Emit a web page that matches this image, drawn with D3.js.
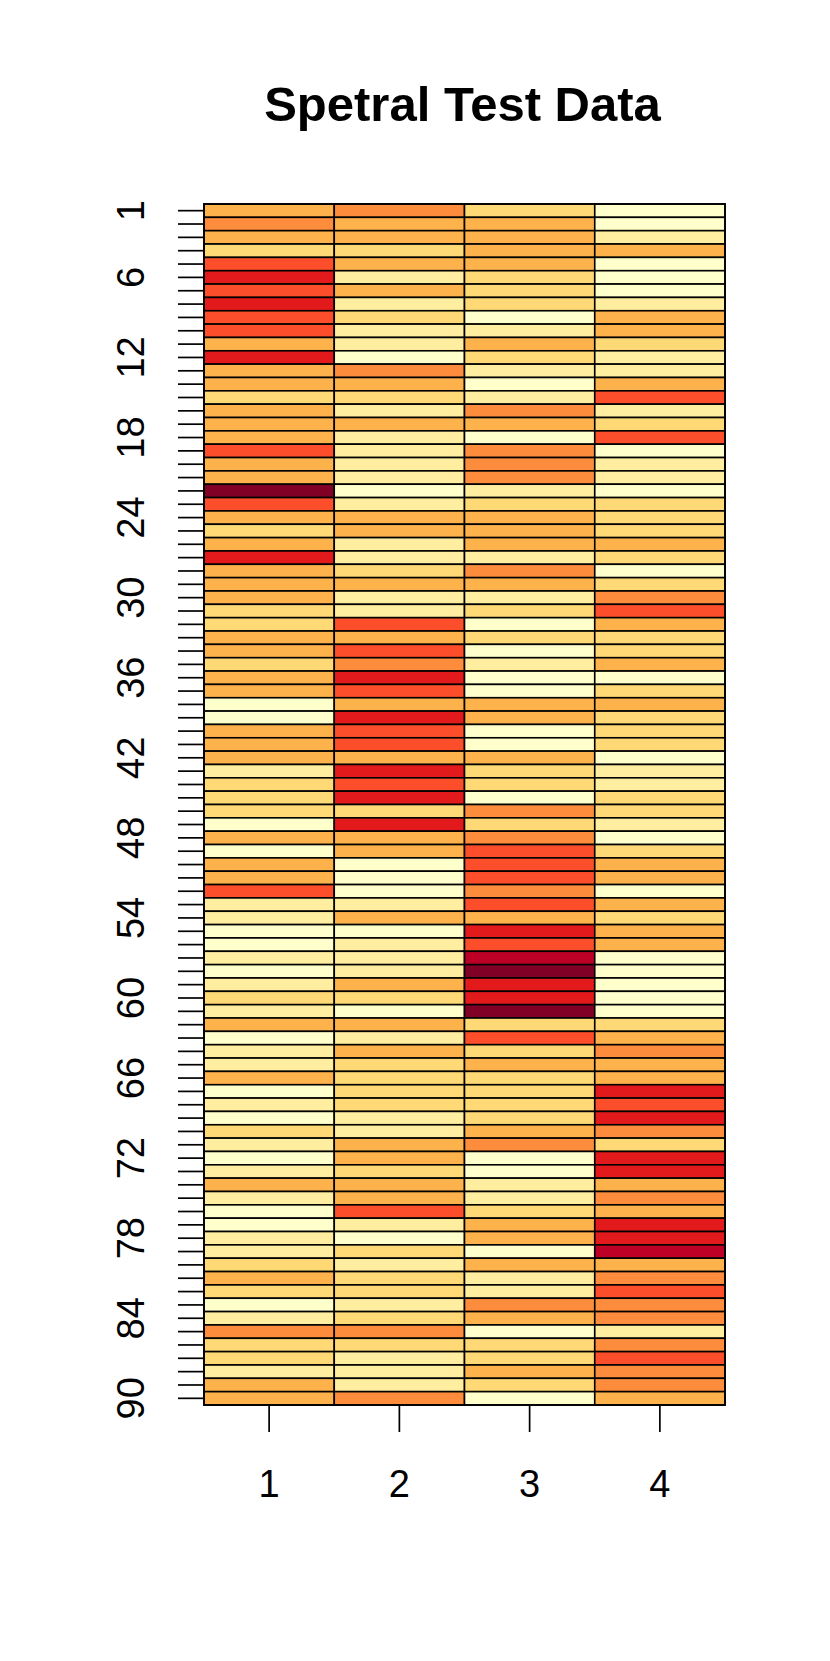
<!DOCTYPE html>
<html>
<head>
<meta charset="utf-8">
<script src="https://cdn.jsdelivr.net/npm/d3@7"></script>
<style>
  html, body { margin: 0; padding: 0; background: #ffffff; }
  svg { display: block; }
  text { font-family: "Liberation Sans", Arial, Helvetica, sans-serif; fill: #000; }
</style>
</head>
<body>
<svg id="chart" width="830" height="1661"></svg>
<script>
// ---- data (colour level 1..9 of the YlOrRd palette, rows 1..90) ----
const title = "Spetral Test Data";
const columns = [1, 2, 3, 4];
const rows = d3.range(1, 91);
const yLabelRows = [1, 6, 12, 18, 24, 30, 36, 42, 48, 54, 60, 66, 72, 78, 84, 90];
const palette = ["#ffffcc", "#ffeda0", "#fed976", "#feb24c", "#fd8d3c", "#fc4e2a", "#e31a1c", "#bd0026", "#800026"];
const levels = [1, 2, 3, 4, 5, 6, 7, 8, 9];

const col1 = [4,5,4,3,6,7,6,7,6,6, 4,7,4,4,3,4,4,4,6,4, 4,9,6,4,3,4,7,4,4,4,
              3,3,4,4,3,4,4,1,1,4, 4,4,2,3,3,3,1,4,1,4, 4,6,2,2,1,1,2,1,2,3,
              2,4,1,2,2,4,1,2,1,3, 2,1,2,4,2,1,1,2,2,3, 4,3,1,2,5,3,3,2,4,4];
const col2 = [5,4,4,3,4,2,4,2,3,2, 2,1,5,4,3,2,4,2,2,2, 2,1,2,4,4,2,2,3,4,2,
              2,6,4,6,5,7,6,4,7,6, 6,4,7,6,7,3,7,4,4,1, 1,1,2,4,1,2,2,2,4,3,
              1,4,2,4,3,3,3,3,2,2, 4,4,3,4,4,6,2,1,3,2, 3,3,2,3,5,3,2,2,2,5];
const col3 = [3,4,4,4,4,3,3,3,1,2, 4,3,2,1,2,5,4,1,5,5, 5,2,3,4,4,4,2,5,4,2,
              3,1,3,1,2,1,1,4,4,1, 1,4,3,3,1,5,3,5,6,6, 6,5,6,4,7,6,8,9,7,7,
              9,3,6,3,4,3,3,3,3,4, 5,1,1,2,2,3,4,4,1,4, 2,2,5,4,1,3,3,4,3,1];
const col4 = [1,1,2,4,1,1,1,2,4,4, 3,2,2,4,6,2,3,6,1,2, 2,1,3,3,3,4,3,1,3,5,
              6,4,3,3,4,1,3,4,3,3, 3,1,2,2,3,3,2,1,3,4, 4,1,4,3,4,4,1,1,1,1,
              1,3,4,5,4,4,7,6,7,5, 3,7,7,4,5,4,7,7,8,4, 5,6,5,5,2,5,6,5,5,4];
const seriesByColumn = [col1, col2, col3, col4];

// ---- layout ----
const svg = d3.select("#chart");
const plot = { left: 204, right: 725, top: 204, bottom: 1405 };

const x = d3.scaleBand().domain(columns).range([plot.left, plot.right]).paddingInner(0).paddingOuter(0);
const y = d3.scaleBand().domain(rows).range([plot.top, plot.bottom]).paddingInner(0).paddingOuter(0);
const color = d3.scaleOrdinal().domain(levels).range(palette);

const cells = [];
columns.forEach((c, ci) => {
  rows.forEach((r, ri) => cells.push({ col: c, row: r, value: seriesByColumn[ci][ri] }));
});

svg.append("g")
  .selectAll("rect")
  .data(cells)
  .join("rect")
  .attr("x", d => x(d.col))
  .attr("y", d => y(d.row))
  .attr("width", x.bandwidth())
  .attr("height", y.bandwidth())
  .attr("fill", d => color(d.value))
  .attr("stroke", "#000")
  .attr("stroke-width", 1.6);

// outer frame
svg.append("rect")
  .attr("x", plot.left).attr("y", plot.top)
  .attr("width", plot.right - plot.left).attr("height", plot.bottom - plot.top)
  .attr("fill", "none").attr("stroke", "#000").attr("stroke-width", 1.8);

// y axis
const yAxis = d3.axisLeft(y)
  .tickValues(rows)
  .tickSize(26)
  .tickPadding(0)
  .tickFormat(d => yLabelRows.includes(d) ? String(d) : "");
const gy = svg.append("g").attr("transform", `translate(${plot.left},0)`).call(yAxis);
gy.select(".domain").remove();
gy.selectAll(".tick line").attr("stroke", "#000").attr("stroke-width", 1.7);
gy.selectAll(".tick text")
  .attr("x", null).attr("dy", null)
  .attr("transform", "translate(-60,0) rotate(-90)")
  .attr("text-anchor", "middle")
  .style("font-size", "38px")
  .style("font-family", "'Liberation Sans', Arial, Helvetica, sans-serif")
  .attr("fill", "#000");

// x axis
const xAxis = d3.axisBottom(x).tickSize(27).tickPadding(0).tickFormat(d => String(d));
const gx = svg.append("g").attr("transform", `translate(0,${plot.bottom})`).call(xAxis);
gx.select(".domain").remove();
gx.selectAll(".tick line").attr("stroke", "#000").attr("stroke-width", 1.7);
gx.selectAll(".tick text")
  .attr("y", 92).attr("dy", null)
  .attr("text-anchor", "middle")
  .style("font-size", "38px")
  .style("font-family", "'Liberation Sans', Arial, Helvetica, sans-serif")
  .attr("fill", "#000");

// title
svg.append("text")
  .attr("x", (plot.left + plot.right) / 2 - 2)
  .attr("y", 121)
  .attr("text-anchor", "middle")
  .style("font-size", "49px")
  .style("font-weight", "bold")
  .text(title);
</script>
</body>
</html>
